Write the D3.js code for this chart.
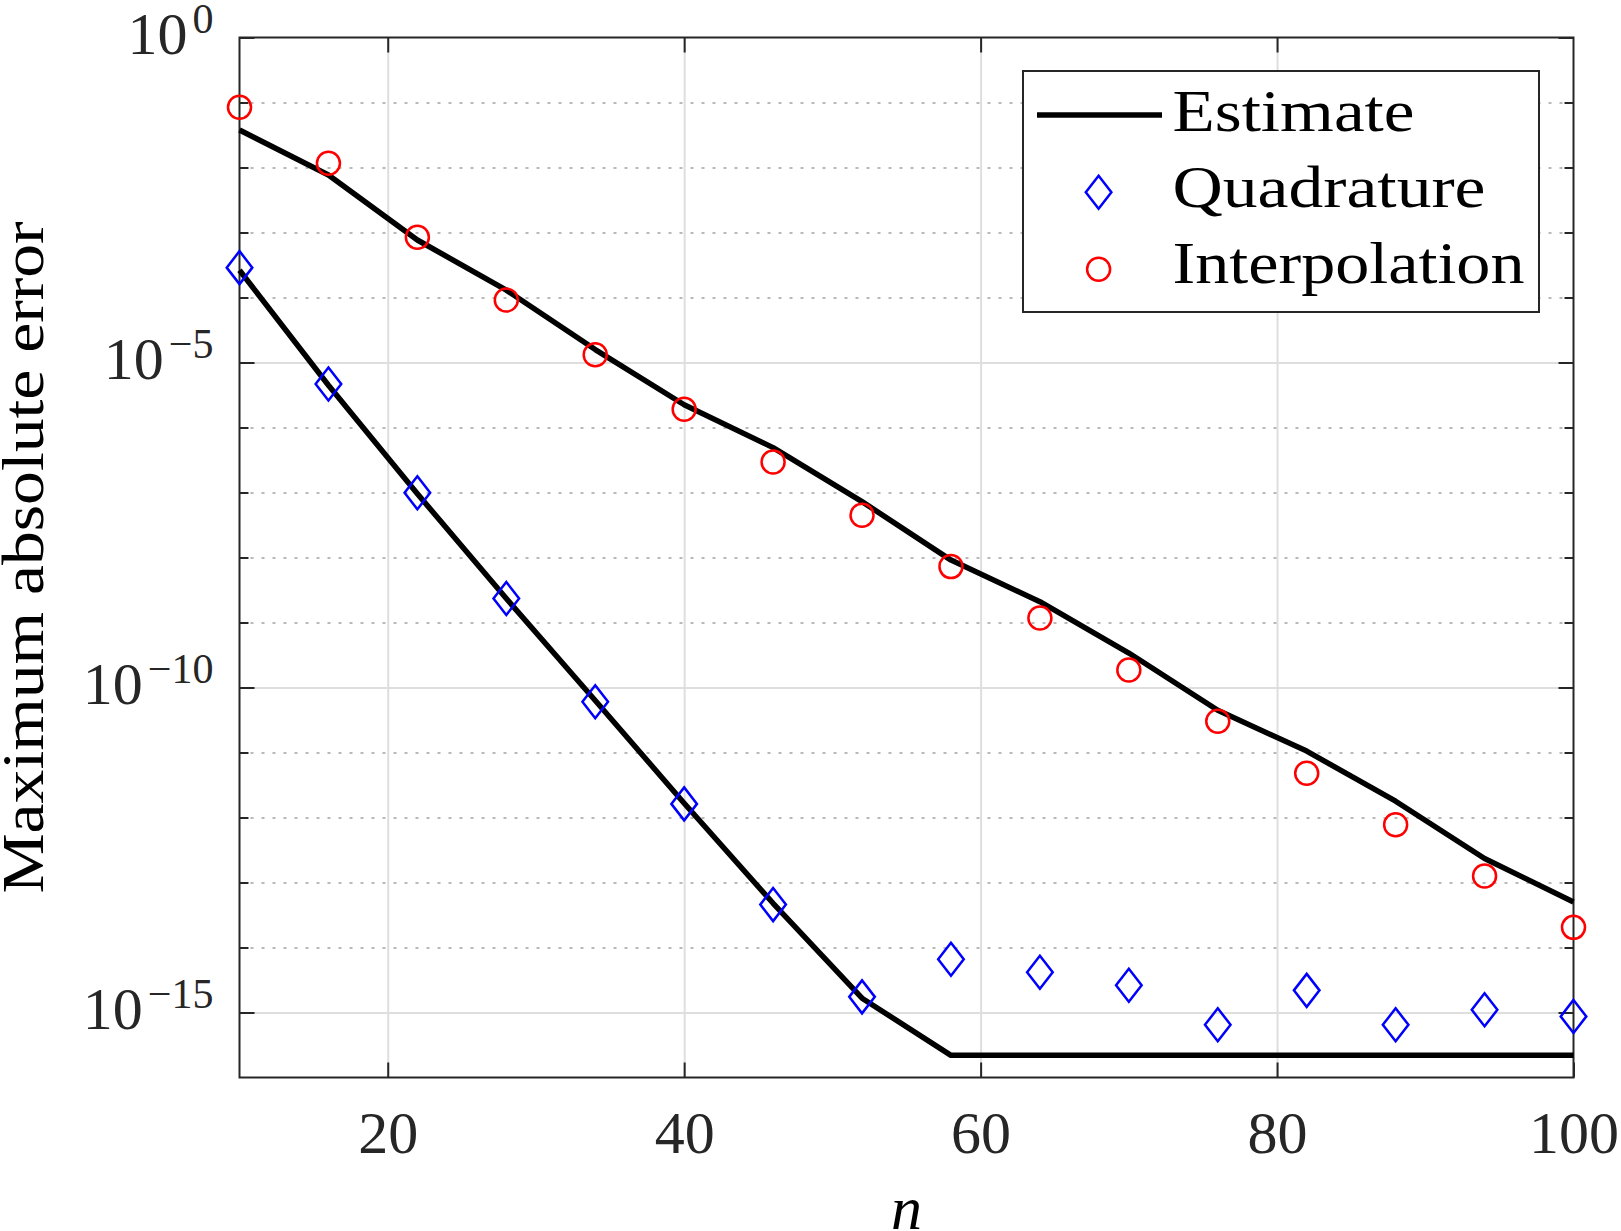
<!DOCTYPE html>
<html>
<head>
<meta charset="utf-8">
<script src="https://cdn.jsdelivr.net/npm/d3@7"></script>
<style>
body { margin: 0; background: #fff; }
svg { display: block; font-family: 'Liberation Serif', serif; }
</style>
</head>
<body>
<svg width="1621" height="1231"></svg>
<script>
// data
const nValues = [10, 16, 22, 28, 34, 40, 46, 52, 58, 64, 70, 76, 82, 88, 94, 100];
const estimateInterp = [3.78e-2, 7.67e-3, 7.67e-4, 1.30e-4, 1.58e-5, 2.24e-6, 4.90e-7, 7.24e-8,
	9.12e-9, 2.09e-9, 3.39e-10, 4.47e-11, 1.05e-11, 1.78e-12, 2.34e-13, 5.01e-14];
const estimateQuad = [2.63e-4, 4.47e-6, 9.55e-8, 2.34e-9, 6.31e-11, 1.66e-12, 4.79e-14, 1.66e-15,
	2.19e-16, 2.19e-16, 2.19e-16, 2.19e-16, 2.19e-16, 2.19e-16, 2.19e-16, 2.19e-16];
const quadrature = [2.88e-4, 4.68e-6, 9.89e-8, 2.34e-9, 6.03e-11, 1.62e-12, 4.57e-14, 1.74e-15,
	6.61e-15, 4.17e-15, 2.63e-15, 6.46e-16, 2.19e-15, 6.46e-16, 1.10e-15, 8.71e-16];
const interpolation = [8.43e-2, 1.16e-2, 8.43e-4, 9.12e-5, 1.32e-5, 1.91e-6, 2.95e-7, 4.47e-8,
	7.24e-9, 1.17e-9, 1.86e-10, 3.02e-11, 4.79e-12, 7.76e-13, 1.26e-13, 2.04e-14];

const xTicks = [20, 40, 60, 80, 100];
const xGrid = [20, 40, 60, 80];
const yMajor = [1e0, 1e-5, 1e-10, 1e-15];
const yMinor = [1e-1, 1e-2, 1e-3, 1e-4, 1e-6, 1e-7, 1e-8, 1e-9, 1e-11, 1e-12, 1e-13, 1e-14];
const legendLabels = ['Estimate', 'Quadrature', 'Interpolation'];
const legendLengths = [242, 313, 352];

const svg = d3.select('svg');
const width = +svg.attr('width');
const height = +svg.attr('height');

const fontFamily = "'Liberation Serif', serif";
const axisColor = '#262626';
const diamond = 'M0,-16.5L12.8,0L0,16.5L-12.8,0Z';

const margin = {top: 37.5, right: 47.5, bottom: 153.5, left: 239.5};
const innerWidth = width - margin.left - margin.right;
const innerHeight = height - margin.top - margin.bottom;

const xScale = d3.scaleLinear()
	.domain([10, 100])
	.range([0, innerWidth]);

const yScale = d3.scaleLog()
	.domain([1e-16, 1])
	.range([innerHeight, 0]);

const g = svg.append('g')
	.attr('transform', `translate(${margin.left}, ${margin.top})`);

// grid
const xGridG = g.append('g')
	.attr('transform', `translate(0, ${innerHeight})`)
	.call(d3.axisBottom(xScale).tickValues(xGrid).tickSize(-innerHeight).tickFormat(''));
xGridG.select('.domain').remove();
xGridG.selectAll('line').attr('stroke', '#dedede').attr('stroke-width', 2);

const yGridG = g.append('g')
	.call(d3.axisLeft(yScale).tickValues(yMajor.slice(1)).tickSize(-innerWidth).tickFormat(''));
yGridG.select('.domain').remove();
yGridG.selectAll('line').attr('stroke', '#dedede').attr('stroke-width', 2);

const yMinorG = g.append('g')
	.call(d3.axisLeft(yScale).tickValues(yMinor).tickSize(-innerWidth).tickFormat(''));
yMinorG.select('.domain').remove();
yMinorG.selectAll('line')
	.attr('stroke', '#b9b9b9')
	.attr('stroke-width', 2)
	.attr('stroke-dasharray', '3,8');

// axes box + ticks
g.append('rect')
	.attr('width', innerWidth)
	.attr('height', innerHeight)
	.attr('fill', 'none')
	.attr('stroke', axisColor)
	.attr('stroke-width', 2);

const styleAxis = sel => {
	sel.attr('font-family', fontFamily).attr('font-size', 60);
	sel.select('.domain').remove();
	sel.selectAll('line').attr('stroke', axisColor).attr('stroke-width', 2);
	sel.selectAll('text').attr('fill', axisColor);
};

const xAxisG = g.append('g')
	.attr('transform', `translate(0, ${innerHeight})`)
	.call(d3.axisBottom(xScale).tickValues(xTicks).tickSizeInner(-15).tickSizeOuter(0).tickPadding(0))
	.call(styleAxis);
xAxisG.selectAll('text').attr('y', 75.5).attr('dy', null);

g.append('g')
	.call(d3.axisTop(xScale).tickValues(xGrid).tickSizeInner(-15).tickSizeOuter(0).tickFormat(''))
	.call(styleAxis);

const yAxisG = g.append('g')
	.call(d3.axisLeft(yScale).tickValues(yMajor).tickSizeInner(-15).tickSizeOuter(0).tickPadding(26))
	.call(styleAxis);

yAxisG.selectAll('.tick text')
	.attr('dy', 15.5)
	.text(null)
	.each(function(d) {
		const t = d3.select(this);
		const p = Math.round(Math.log10(d));
		t.append('tspan').text('10');
		t.append('tspan')
			.attr('dx', 5)
			.attr('dy', -21)
			.attr('font-size', 42)
			.text(p === 0 ? '0' : '\u2212' + (-p));
	});

g.append('g')
	.call(d3.axisLeft(yScale).tickValues(yMinor).tickSizeInner(-9).tickSizeOuter(0).tickFormat(''))
	.call(styleAxis);

g.append('g')
	.attr('transform', `translate(${innerWidth}, 0)`)
	.call(d3.axisRight(yScale).tickValues(yMajor).tickSizeInner(-15).tickSizeOuter(0).tickFormat(''))
	.call(styleAxis);

g.append('g')
	.attr('transform', `translate(${innerWidth}, 0)`)
	.call(d3.axisRight(yScale).tickValues(yMinor).tickSizeInner(-9).tickSizeOuter(0).tickFormat(''))
	.call(styleAxis);

// axis labels
g.append('text')
	.attr('x', innerWidth / 2)
	.attr('y', 1191)
	.attr('text-anchor', 'middle')
	.attr('font-size', 62)
	.attr('font-style', 'italic')
	.attr('fill', '#000')
	.text('n');

svg.append('text')
	.attr('transform', `translate(43, ${margin.top + innerHeight / 2}) rotate(-90)`)
	.attr('text-anchor', 'middle')
	.attr('font-size', 60)
	.attr('fill', '#000')
	.attr('textLength', 672)
	.attr('lengthAdjust', 'spacingAndGlyphs')
	.text('Maximum absolute error');

// data
const line = ys => d3.line()
	.x((d, i) => xScale(nValues[i]))
	.y(d => yScale(d))(ys);

[estimateInterp, estimateQuad].forEach(ys => {
	g.append('path')
		.attr('d', line(ys))
		.attr('fill', 'none')
		.attr('stroke', '#000')
		.attr('stroke-width', 5.5)
		.attr('stroke-linejoin', 'round');
});

g.selectAll('.quad').data(quadrature)
	.enter().append('path')
		.attr('class', 'quad')
		.attr('d', diamond)
		.attr('transform', (d, i) => `translate(${xScale(nValues[i])}, ${yScale(d)})`)
		.attr('fill', 'none')
		.attr('stroke', '#0000ff')
		.attr('stroke-width', 2.5);

g.selectAll('.interp').data(interpolation)
	.enter().append('circle')
		.attr('class', 'interp')
		.attr('cx', (d, i) => xScale(nValues[i]))
		.attr('cy', d => yScale(d))
		.attr('r', 11.5)
		.attr('fill', 'none')
		.attr('stroke', '#ff0000')
		.attr('stroke-width', 2.5);

// legend
const legend = svg.append('g')
	.attr('transform', `translate(${margin.left + innerWidth - 550.5}, ${margin.top + 33.5})`);

legend.append('rect')
	.attr('width', 516)
	.attr('height', 241)
	.attr('fill', '#fff')
	.attr('stroke', axisColor)
	.attr('stroke-width', 2);

legend.append('line')
	.attr('x1', 14).attr('x2', 139)
	.attr('y1', 44).attr('y2', 44)
	.attr('stroke', '#000')
	.attr('stroke-width', 5.5);

legend.append('path')
	.attr('d', diamond)
	.attr('transform', 'translate(75.6, 121.3)')
	.attr('fill', 'none')
	.attr('stroke', '#0000ff')
	.attr('stroke-width', 2.5);

legend.append('circle')
	.attr('cx', 75.6)
	.attr('cy', 198.3)
	.attr('r', 11.5)
	.attr('fill', 'none')
	.attr('stroke', '#ff0000')
	.attr('stroke-width', 2.5);

legend.selectAll('.leg-label').data(legendLabels)
	.enter().append('text')
		.attr('class', 'leg-label')
		.attr('x', 149.5)
		.attr('y', (d, i) => 59.7 + i * 76.3)
		.attr('font-size', 60)
		.attr('fill', '#000')
		.attr('textLength', (d, i) => legendLengths[i])
		.attr('lengthAdjust', 'spacingAndGlyphs')
		.text(d => d);
</script>
</body>
</html>
